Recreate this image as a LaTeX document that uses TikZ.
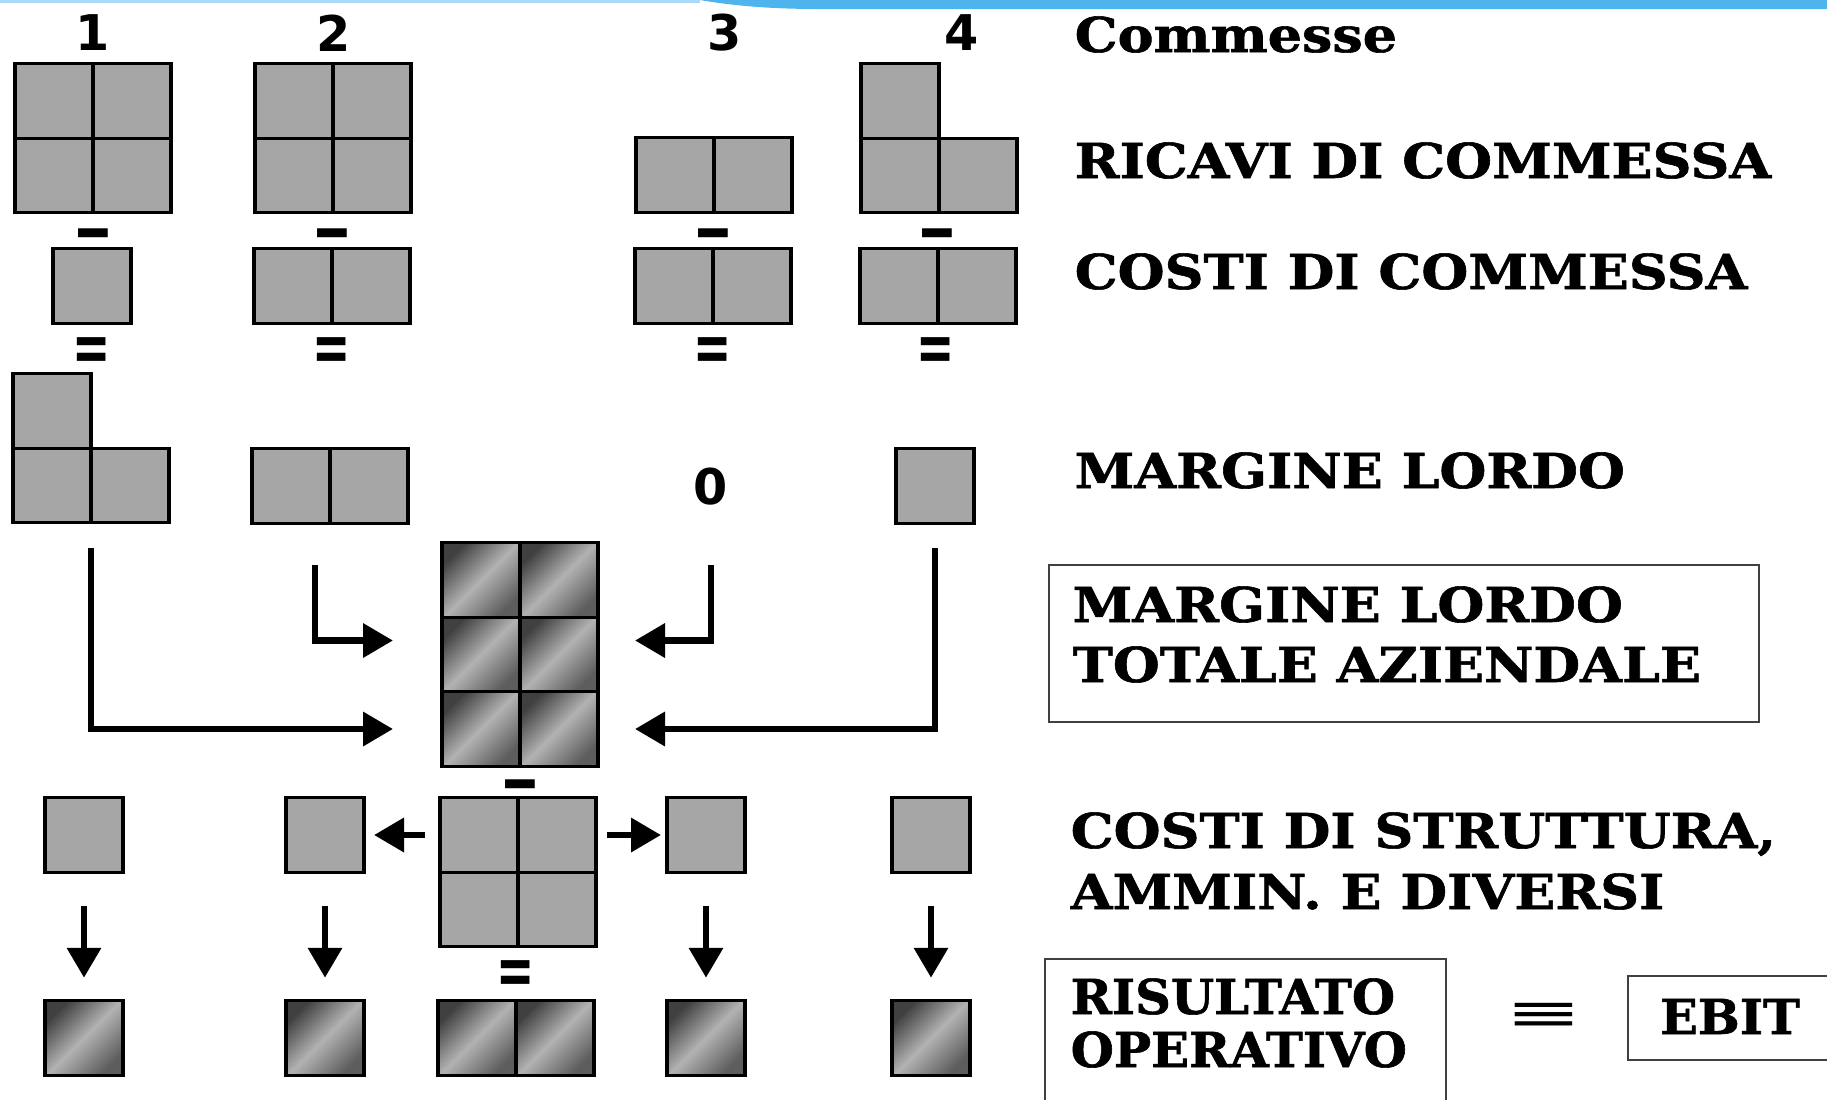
\documentclass[tikz,border=0pt]{standalone}
\usepackage{fontspec}
\setmainfont{DejaVu Serif}
\newfontfamily\numfont{DejaVu Sans}
\newfontfamily\labf{DejaVu Serif}[FakeStretch=1.12,BoldFeatures={FakeBold=1.2}]
\newfontfamily\labg{DejaVu Serif}[FakeStretch=1.03,BoldFeatures={FakeBold=1.2}]
\usepackage{tikz}
\usetikzlibrary{arrows.meta,positioning}
\definecolor{grigio}{HTML}{A6A6A6}
\definecolor{scuro}{HTML}{404040}
\definecolor{chiaro}{HTML}{B2B2B2}
\definecolor{azzurro}{HTML}{4FB3EE}
\definecolor{azzurrino}{HTML}{A8DAF7}
\newcommand\labfont{\labf\fontsize{13.7}{17.3}\selectfont\bfseries}
\newcommand\labfontb{\labg\fontsize{13.7}{17.3}\selectfont\bfseries}
\newcommand\meno{\scalebox{1.35}[2.2]{−}}
\newcommand\uguale{\scalebox{1.3}[2.0]{=}}
\tikzset{
  cella/.style={draw=black,line width=0.9pt,fill=grigio,minimum width=0.78cm,minimum height=0.745cm,inner sep=0pt,outer sep=0pt},
  cellb/.style={draw=black,line width=0.9pt,top color=scuro,bottom color=scuro!85,middle color=chiaro,shading angle=45,minimum width=0.78cm,minimum height=0.745cm,inner sep=0pt,outer sep=0pt},
  lab/.style={font=\labfont,anchor=base west,inner sep=0pt},
  labb/.style={font=\labfontb,anchor=base west,inner sep=0pt},
  num/.style={font=\numfont\bfseries\fontsize{14}{16}\selectfont,inner sep=0pt},
  segno/.style={font=\numfont\bfseries\fontsize{10}{12}\selectfont,inner sep=0pt},
  freccia/.style={-{Triangle[length=3mm,width=3.3mm]},line width=1.9pt},
  riquadro/.style={draw=black!75,line width=0.7pt}
}
\begin{document}
\begin{tikzpicture}
\fill[white] (0,0) rectangle (18.27,-10.99);
\useasboundingbox (0,0) rectangle (18.27,-10.99);
% bordo della slide
\draw[azzurrino,line width=1pt] (0,-0.01) -- (7.0,-0.01);
\fill[azzurro] (7.0,0) .. controls (7.4,-0.07) and (7.8,-0.09) .. (8.2,-0.09) -- (18.27,-0.09) -- (18.27,0) -- cycle;

% intestazioni
\node[num] (n1) at (0.93,-0.33) {1};
\node[num] (n2) at (3.34,-0.33) {2};
\node[num] (n3) at (7.25,-0.33) {3};
\node[num] (n4) at (9.62,-0.33) {4};

% ricavi di commessa
\node[cella] (ra1) at (0.54,-1.01) {};
\node[cella,right=0pt of ra1] (rb1) {};
\node[cella,below=0pt of ra1] (rc1) {};
\node[cella,right=0pt of rc1] (rd1) {};
\node[cella] (ra2) at (2.94,-1.01) {};
\node[cella,right=0pt of ra2] (rb2) {};
\node[cella,below=0pt of ra2] (rc2) {};
\node[cella,right=0pt of rc2] (rd2) {};
\node[cella] (rc3) at (6.75,-1.75) {};
\node[cella,right=0pt of rc3] (rd3) {};
\node[cella] (ra4) at (9.00,-1.01) {};
\node[cella,below=0pt of ra4] (rc4) {};
\node[cella,right=0pt of rc4] (rd4) {};

\node[segno] (meno1) at (0.93,-2.43) {\meno};
\node[segno] (meno2) at (3.32,-2.43) {\meno};
\node[segno] (meno3) at (7.13,-2.43) {\meno};
\node[segno] (meno4) at (9.37,-2.43) {\meno};

% costi di commessa
\node[cella] (ca1) at (0.92,-2.86) {};
\node[cella] (ca2) at (2.93,-2.86) {};
\node[cella,right=0pt of ca2] (cb2) {};
\node[cella] (ca3) at (6.74,-2.86) {};
\node[cella,right=0pt of ca3] (cb3) {};
\node[cella] (ca4) at (8.99,-2.86) {};
\node[cella,right=0pt of ca4] (cb4) {};

\node[segno] (ug1) at (0.92,-3.55) {\uguale};
\node[segno] (ug2) at (3.32,-3.55) {\uguale};
\node[segno] (ug3) at (7.13,-3.55) {\uguale};
\node[segno] (ug4) at (9.36,-3.55) {\uguale};

% margine lordo
\node[cella] (ma1) at (0.52,-4.11) {};
\node[cella,below=0pt of ma1] (mc1) {};
\node[cella,right=0pt of mc1] (md1) {};
\node[cella] (mc2) at (2.91,-4.86) {};
\node[cella,right=0pt of mc2] (md2) {};
\node[num] (zero) at (7.11,-4.87) {0};
\node[cella] (mc4) at (9.35,-4.86) {};

% margine lordo totale
\node[cellb] (t1) at (4.81,-5.80) {};
\node[cellb,right=0pt of t1] (t2) {};
\node[cellb,below=0pt of t1] (t3) {};
\node[cellb,right=0pt of t3] (t4) {};
\node[cellb,below=0pt of t3] (t5) {};
\node[cellb,right=0pt of t5] (t6) {};

\draw[freccia] ([yshift=-0.25cm]mc1.south east) |- ([xshift=-0.49cm]t5.west);
\draw[freccia] ([xshift=-0.15cm,yshift=-0.42cm]mc2.south east) |- ([xshift=-0.49cm,yshift=0.14cm]t3.west);
\draw[freccia] ([yshift=-0.78cm]zero.center) |- ([xshift=0.37cm,yshift=0.14cm]t4.east);
\draw[freccia] ([yshift=-0.25cm]mc4.south) |- ([xshift=0.37cm]t6.east);

\node[segno] (meno5) at (5.20,-7.94) {\meno};

% costi di struttura
\node[cella] (sa) at (4.79,-8.35) {};
\node[cella,right=0pt of sa] (sb) {};
\node[cella,below=0pt of sa] (sc) {};
\node[cella,right=0pt of sc] (sd) {};
\node[cella] (s1) at (0.84,-8.35) {};
\node[cella] (s2) at (3.25,-8.35) {};
\node[cella] (s3) at (7.06,-8.35) {};
\node[cella] (s4) at (9.31,-8.35) {};

\draw[freccia] ([xshift=-0.15cm]sa.west) -- ([xshift=0.10cm]s2.east);
\draw[freccia] ([xshift=0.11cm]sb.east) -- ([xshift=-0.06cm]s3.west);

\node[segno] (ug5) at (5.16,-9.78) {\uguale};

% risultato operativo
\node[cellb] (e1) at (0.84,-10.38) {};
\node[cellb] (e2) at (3.25,-10.38) {};
\node[cellb] (ea) at (4.77,-10.38) {};
\node[cellb,right=0pt of ea] (eb) {};
\node[cellb] (e3) at (7.06,-10.38) {};
\node[cellb] (e4) at (9.31,-10.38) {};

\draw[freccia] ([yshift=-0.34cm]s1.south) -- ([yshift=0.23cm]e1.north);
\draw[freccia] ([yshift=-0.34cm]s2.south) -- ([yshift=0.23cm]e2.north);
\draw[freccia] ([yshift=-0.34cm]s3.south) -- ([yshift=0.23cm]e3.north);
\draw[freccia] ([yshift=-0.34cm]s4.south) -- ([yshift=0.23cm]e4.north);

% didascalie
\node[lab] (l0) at (10.74,-0.52) {Commesse};
\node[lab] (l1) at (10.74,-1.78) {RICAVI DI COMMESSA};
\node[lab] (l2) at (10.74,-2.89) {COSTI DI COMMESSA};
\node[lab] (l3) at (10.74,-4.88) {MARGINE LORDO};
\draw[riquadro] (10.49,-5.65) rectangle (17.59,-7.22);
\node[lab] (l4) at (10.72,-6.22) {MARGINE LORDO};
\node[lab] (l5) at (10.72,-6.82) {TOTALE AZIENDALE};
\node[lab] (l6) at (10.70,-8.48) {COSTI DI STRUTTURA,};
\node[lab] (l7) at (10.70,-9.09) {AMMIN. E DIVERSI};
\draw[riquadro] (10.45,-11.2) |- (14.46,-9.59) -- (14.46,-11.2);
\node[labb] (l8) at (10.70,-10.14) {RISULTATO};
\node[labb] (l9) at (10.70,-10.67) {OPERATIVO};
\node[font=\numfont\fontsize{18}{20}\selectfont,inner sep=0pt] (equiv) at (15.44,-10.17) {\scalebox{1.45}[0.8]{≡}};
\draw[riquadro] (18.4,-9.76) -| (16.28,-10.60) -- (18.4,-10.60);
\node[labb,anchor=base] (l10) at (17.30,-10.34) {EBIT};
\end{tikzpicture}
\end{document}
